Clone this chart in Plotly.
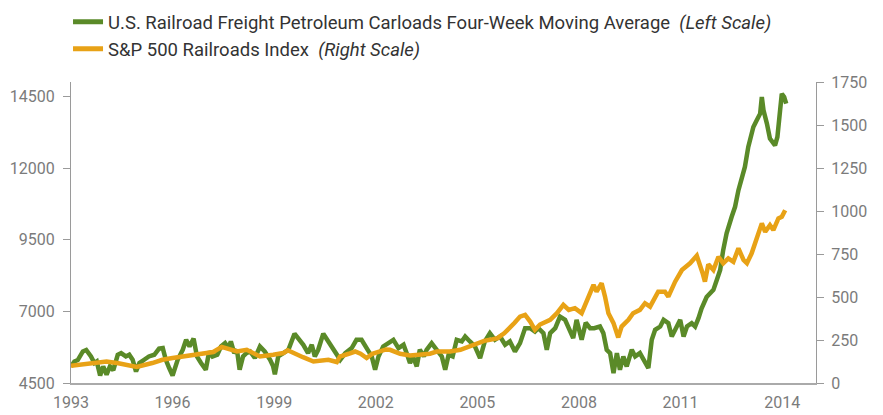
import plotly.graph_objects as go

# U.S. Railroad Freight Petroleum Carloads, four-week moving average (left scale)
carload_years = [
    1993.00, 1993.10, 1993.20, 1993.35, 1993.45, 1993.59, 1993.69, 1993.76, 1993.86, 1993.95,
    1994.05, 1994.15, 1994.25, 1994.38, 1994.48, 1994.62, 1994.72, 1994.82, 1994.92, 1995.02,
    1995.16, 1995.30, 1995.46, 1995.60, 1995.71, 1995.80, 1995.90, 1996.00, 1996.15, 1996.30,
    1996.40, 1996.50, 1996.62, 1996.72, 1996.84, 1996.98, 1997.08, 1997.18, 1997.32, 1997.43,
    1997.55, 1997.65, 1997.72, 1997.82, 1997.90, 1997.98, 1998.08, 1998.18, 1998.29, 1998.43,
    1998.58, 1998.72, 1998.88, 1998.97, 1999.02, 1999.12, 1999.27, 1999.42, 1999.60, 1999.72,
    1999.86, 2000.00, 2000.11, 2000.20, 2000.30, 2000.45, 2000.57, 2000.70, 2000.80, 2000.95,
    2001.10, 2001.29, 2001.43, 2001.58, 2001.73, 2001.88, 2001.98, 2002.08, 2002.22, 2002.37,
    2002.52, 2002.67, 2002.82, 2002.91, 2003.01, 2003.10, 2003.21, 2003.30, 2003.42, 2003.50,
    2003.65, 2003.80, 2003.95, 2004.05, 2004.15, 2004.27, 2004.39, 2004.54, 2004.64, 2004.78,
    2004.93, 2005.08, 2005.22, 2005.37, 2005.52, 2005.67, 2005.82, 2005.96, 2006.11, 2006.26,
    2006.41, 2006.56, 2006.70, 2006.80, 2006.95, 2007.05, 2007.15, 2007.30, 2007.44, 2007.59,
    2007.74, 2007.83, 2007.93, 2008.08, 2008.20, 2008.33, 2008.45, 2008.62, 2008.72, 2008.82,
    2008.92, 2009.02, 2009.12, 2009.21, 2009.31, 2009.41, 2009.56, 2009.66, 2009.80, 2009.95,
    2010.05, 2010.15, 2010.25, 2010.40, 2010.50, 2010.64, 2010.74, 2010.89, 2010.99, 2011.09,
    2011.19, 2011.33, 2011.43, 2011.53, 2011.62, 2011.77, 2011.97, 2012.07, 2012.17, 2012.26,
    2012.36, 2012.51, 2012.61, 2012.71, 2012.81, 2012.90, 2013.00, 2013.05, 2013.15, 2013.25,
    2013.35, 2013.40, 2013.45, 2013.55, 2013.64, 2013.79, 2013.86, 2013.94, 2013.99, 2014.06,
    2014.12,
]
carload_values = [
    5078, 5250, 5300, 5600, 5650, 5426, 5196, 5250, 4760, 5078,
    4789, 5078, 4950, 5485, 5544, 5426, 5485, 5311, 4900, 5196,
    5311, 5426, 5485, 5700, 5718, 5311, 5022, 4760, 5311, 5659,
    6007, 5774, 6050, 5426, 5196, 4963, 5600, 5426, 5485, 5774,
    5892, 5718, 5950, 5544, 5659, 4963, 5426, 5544, 5600, 5370,
    5774, 5600, 5311, 5078, 4800, 5426, 5544, 5659, 6220, 6066,
    5833, 5544, 5833, 5426, 5659, 6220, 6007, 5774, 5600, 5311,
    5544, 5718, 6007, 6007, 5718, 5426, 4963, 5426, 5774, 5892,
    6007, 5718, 5833, 5544, 5196, 5426, 5078, 5659, 5426, 5659,
    5892, 5659, 5426, 4963, 5485, 5426, 6007, 5950, 6123, 5950,
    5774, 5370, 5950, 6240, 6007, 6123, 5833, 5950, 5600, 5892,
    6414, 6414, 6297, 6414, 6240, 5659, 6240, 6414, 6818, 6703,
    6355, 6066, 6703, 6007, 6600, 6414, 6414, 6470, 6240, 5659,
    5544, 4848, 5544, 4963, 5426, 5078, 5659, 5426, 5544, 5196,
    5022, 6007, 6355, 6470, 6703, 6588, 6123, 6470, 6703, 6123,
    6470, 6588, 6470, 6762, 7100, 7500, 7747, 8095, 8443, 9139,
    9720, 10298, 10646, 11227, 11690, 12038, 12734, 13026, 13430, 13663,
    13896, 14474, 14011, 13548, 13026, 12793, 13082, 14011, 14592, 14474,
    14244,
]

# S&P 500 Railroads Index (right scale)
index_years = [
    1993.00, 1993.50, 1994.05, 1994.40, 1994.94, 1995.40, 1995.70, 1996.00, 1996.40, 1996.80,
    1997.20, 1997.45, 1997.60, 1997.90, 1998.19, 1998.40, 1998.58, 1998.97, 1999.27, 1999.40,
    1999.60, 1999.85, 2000.16, 2000.45, 2000.60, 2000.85, 2000.94, 2001.20, 2001.39, 2001.55,
    2001.73, 2001.90, 2002.12, 2002.30, 2002.42, 2002.72, 2003.01, 2003.30, 2003.60, 2003.80,
    2004.19, 2004.50, 2004.75, 2004.98, 2005.20, 2005.37, 2005.60, 2005.80, 2005.96, 2006.10,
    2006.26, 2006.41, 2006.56, 2006.70, 2006.85, 2007.00, 2007.15, 2007.35, 2007.54, 2007.70,
    2007.88, 2008.08, 2008.20, 2008.33, 2008.43, 2008.52, 2008.67, 2008.77, 2008.87, 2009.02,
    2009.16, 2009.26, 2009.46, 2009.60, 2009.80, 2009.95, 2010.10, 2010.34, 2010.54, 2010.64,
    2010.84, 2011.04, 2011.28, 2011.48, 2011.58, 2011.65, 2011.72, 2011.82, 2011.97, 2012.12,
    2012.26, 2012.41, 2012.56, 2012.71, 2012.86, 2012.96, 2013.10, 2013.25, 2013.40, 2013.50,
    2013.64, 2013.74, 2013.89, 2013.99, 2014.09,
]
index_values = [
    100, 112, 125, 115, 93, 116, 135, 145, 155, 164,
    180, 210, 200, 183, 193, 174, 154, 164, 174, 190,
    170, 150, 125, 130, 135, 122, 154, 170, 183, 170,
    145, 170, 183, 195, 193, 170, 160, 164, 170, 183,
    183, 193, 210, 232, 245, 251, 261, 290, 319, 350,
    386, 396, 357, 309, 340, 357, 367, 406, 454, 425,
    435, 406, 464, 531, 570, 531, 580, 502, 406, 348,
    265, 328, 367, 406, 425, 464, 444, 531, 531, 502,
    589, 657, 696, 740, 690, 640, 589, 690, 657, 734,
    696, 725, 705, 783, 715, 696, 754, 841, 928, 879,
    918, 889, 957, 966, 1005,
]

x_ticks = [1993, 1996, 1999, 2002, 2005, 2008, 2011, 2014]
left_ticks = [4500, 7000, 9500, 12000, 14500]
right_ticks = [0, 250, 500, 750, 1000, 1250, 1500, 1750]

GREEN = "#5a8a28"
ORANGE = "#e8a216"
FONT = "Roboto"
TICK_FS = 16
LEG_FS = 18.5
TICKC = "#7b7b7b"
AXC = "#9a9a9a"
NB = "\u00a0"

fig = go.Figure()
fig.add_trace(go.Scatter(
    x=carload_years, y=carload_values, mode="lines", yaxis="y",
    name="U.S. Railroad Freight Petroleum Carloads Four-Week Moving Average" + NB * 2 + "<i>(Left Scale)</i>",
    line=dict(color=GREEN, width=4.5),
))
fig.add_trace(go.Scatter(
    x=index_years, y=index_values, mode="lines", yaxis="y2",
    name="S&P 500 Railroads Index" + NB * 2 + "<i>(Right Scale)</i>",
    line=dict(color=ORANGE, width=4.5),
))

# the page body has an 8px margin, so the figure is sized to fit the window
fig.update_layout(
    width=875, height=407,
    margin=dict(l=63, r=67, t=74, b=32, autoexpand=False),
    paper_bgcolor="white", plot_bgcolor="white",
    font=dict(family=FONT, size=TICK_FS, color=TICKC),
    showlegend=True,
    legend=dict(
        x=-0.004, xanchor="left", y=1.2615, yanchor="top",
        orientation="v", bgcolor="rgba(0,0,0,0)",
        font=dict(family=FONT, size=LEG_FS, color="#333333"),
        tracegroupgap=0, itemsizing="constant",
    ),
    xaxis=dict(
        range=[1993, 2015], tickvals=x_ticks, ticktext=[str(t) for t in x_ticks],
        showgrid=False, zeroline=False, showline=True, linecolor="#aaaaaa", linewidth=2,
        ticks="", ticklabelstandoff=4, tickfont=dict(family=FONT, size=TICK_FS, color=TICKC),
    ),
    yaxis=dict(
        range=[4500, 15000], tickvals=left_ticks, tickformat="d",
        showgrid=False, zeroline=False, showline=True, linecolor=AXC, linewidth=1,
        ticks="outside", ticklen=7, tickcolor=AXC, tickwidth=1, ticklabelstandoff=5,
        tickfont=dict(family=FONT, size=TICK_FS, color=TICKC),
    ),
    yaxis2=dict(
        range=[0, 1750], tickvals=right_ticks, tickformat="d", overlaying="y", side="right",
        showgrid=False, zeroline=False, showline=True, linecolor=AXC, linewidth=1,
        ticks="outside", ticklen=7, tickcolor=AXC, tickwidth=1, ticklabelstandoff=4,
        tickfont=dict(family=FONT, size=TICK_FS, color=TICKC),
    ),
)

fig.write_html("out.html")
